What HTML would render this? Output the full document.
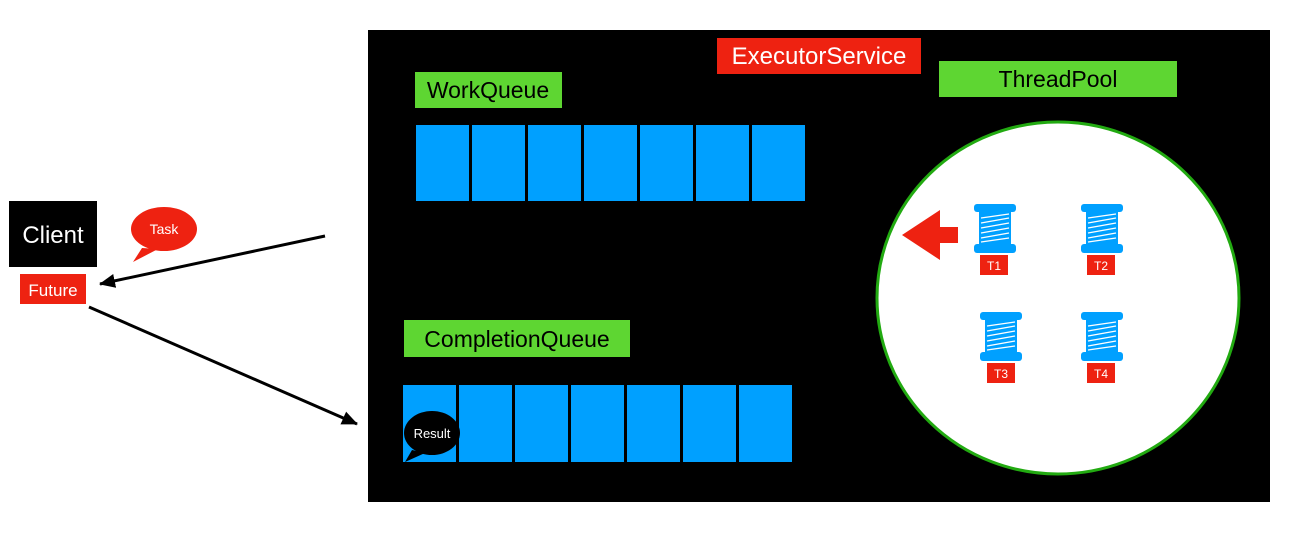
<!DOCTYPE html>
<html><head><style>
body{margin:0;width:1301px;height:532px;background:#fff;overflow:hidden;font-family:"Liberation Sans",sans-serif}
</style></head><body>
<svg width="1301" height="532" xmlns="http://www.w3.org/2000/svg" font-family="Liberation Sans, sans-serif">
<defs>
<marker id="ah" markerWidth="16" markerHeight="14" refX="15" refY="7" orient="auto" markerUnits="userSpaceOnUse" viewBox="0 0 16 14"><path d="M0,0 L16,7 L0,14 z" fill="#000"/></marker>
<g id="spool">
<rect x="-21" y="0" width="42" height="8" rx="3" fill="#00a0ff"/>
<rect x="-16" y="8" width="32" height="32" fill="#00a0ff"/>
<g stroke="#fff" stroke-width="1.2">
<line x1="-14" y1="14" x2="14" y2="10"/><line x1="-14" y1="19" x2="14" y2="14"/><line x1="-14" y1="24" x2="14" y2="19"/><line x1="-14" y1="29" x2="14" y2="24"/><line x1="-14" y1="34" x2="14" y2="29"/><line x1="-14" y1="38" x2="14" y2="34"/>
</g>
<rect x="-21" y="40" width="42" height="9" rx="3" fill="#00a0ff"/>
</g>
</defs>
<rect x="368" y="30" width="902" height="472" fill="#000"/>
<rect x="717" y="38" width="204" height="36" fill="#ee2211"/>
<text x="819" y="64" font-size="24" fill="#fff" text-anchor="middle">ExecutorService</text>
<rect x="939" y="61" width="238" height="36" fill="#5ed632"/>
<text x="1058" y="87" font-size="23" fill="#000" text-anchor="middle">ThreadPool</text>
<rect x="415" y="72" width="147" height="36" fill="#5ed632"/>
<text x="488" y="98" font-size="23" fill="#000" text-anchor="middle">WorkQueue</text>
<g fill="#00a0ff">
<rect x="416" y="125" width="53" height="76"/><rect x="472" y="125" width="53" height="76"/><rect x="528" y="125" width="53" height="76"/><rect x="584" y="125" width="53" height="76"/><rect x="640" y="125" width="53" height="76"/><rect x="696" y="125" width="53" height="76"/><rect x="752" y="125" width="53" height="76"/>
</g>
<rect x="404" y="320" width="226" height="37" fill="#5ed632"/>
<text x="517" y="347" font-size="23" fill="#000" text-anchor="middle">CompletionQueue</text>
<g fill="#00a0ff">
<rect x="403" y="385" width="53" height="77"/><rect x="459" y="385" width="53" height="77"/><rect x="515" y="385" width="53" height="77"/><rect x="571" y="385" width="53" height="77"/><rect x="627" y="385" width="53" height="77"/><rect x="683" y="385" width="53" height="77"/><rect x="739" y="385" width="53" height="77"/>
</g>
<path d="M412,450 L405,462 L425,453 z" fill="#000"/>
<ellipse cx="432" cy="433" rx="28" ry="22" fill="#000"/>
<text x="432" y="438" font-size="13" fill="#fff" text-anchor="middle">Result</text>
<ellipse cx="1058" cy="298" rx="181" ry="176" fill="#fff" stroke="#22aa11" stroke-width="3"/>
<path d="M902,235 L940,210 L940,227 L958,227 L958,243 L940,243 L940,260 z" fill="#ee2211"/>
<use href="#spool" x="995" y="204"/>
<use href="#spool" x="1102" y="204"/>
<use href="#spool" x="1001" y="312"/>
<use href="#spool" x="1102" y="312"/>
<g fill="#ee2211"><rect x="980" y="255" width="28" height="20"/><rect x="1087" y="255" width="28" height="20"/><rect x="987" y="363" width="28" height="20"/><rect x="1087" y="363" width="28" height="20"/></g>
<g font-size="12" fill="#fff" text-anchor="middle"><text x="994" y="270">T1</text><text x="1101" y="270">T2</text><text x="1001" y="378">T3</text><text x="1101" y="378">T4</text></g>
<rect x="9" y="201" width="88" height="66" fill="#000"/>
<text x="53" y="243" font-size="24" fill="#fff" text-anchor="middle">Client</text>
<rect x="20" y="274" width="66" height="30" fill="#ee2211"/>
<text x="53" y="296" font-size="17" fill="#fff" text-anchor="middle">Future</text>
<path d="M142,248 L133,262 L158,249 z" fill="#ee2211"/>
<ellipse cx="164" cy="229" rx="33" ry="22" fill="#ee2211"/>
<text x="164" y="234" font-size="14" fill="#fff" text-anchor="middle">Task</text>
<line x1="325" y1="236" x2="100" y2="284" stroke="#000" stroke-width="3" marker-end="url(#ah)"/>
<line x1="89" y1="307" x2="357" y2="424" stroke="#000" stroke-width="3" marker-end="url(#ah)"/>
</svg>
</body></html>
